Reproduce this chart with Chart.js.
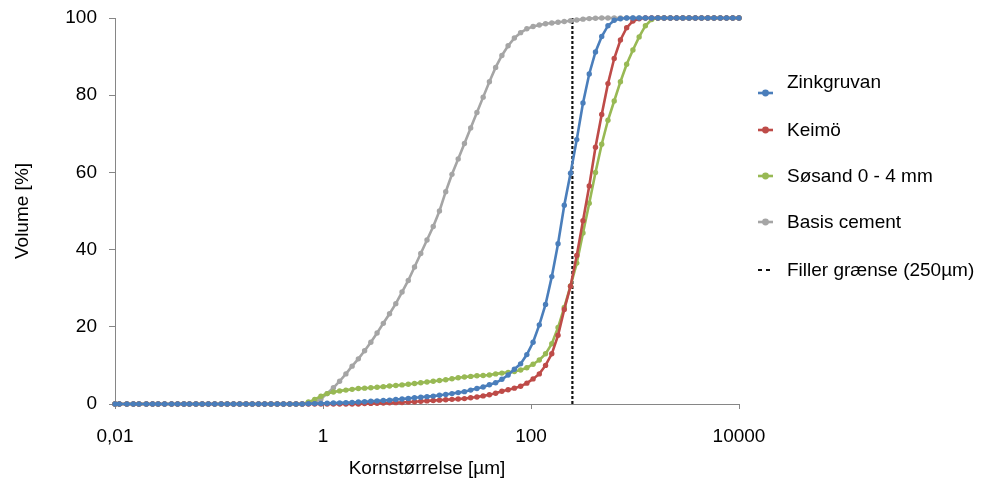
<!DOCTYPE html>
<html><head><meta charset="utf-8">
<script src="https://cdn.jsdelivr.net/npm/chart.js@4/dist/chart.umd.min.js"></script>
<style>
html,body{margin:0;padding:0;background:#fff;}
#wrap{position:relative;width:982px;height:480px;overflow:hidden;}
#c{position:absolute;left:0;top:0;}
.lg{position:absolute;left:756px;height:24px;white-space:nowrap;font:19px "Liberation Sans",Arial,sans-serif;color:#000;}
.lg canvas{position:absolute;left:0;}
.lg span{position:absolute;left:31px;top:0;line-height:24px;}
</style></head><body>
<div id="wrap"><canvas id="c" width="982" height="480"></canvas><div id="legend"></div></div>
<script>
// particle size grid (µm)
const sizes = [
 0.01,0.011,0.013,0.015,0.017,0.02,0.023,0.026,0.03,0.035,
 0.04,0.046,0.052,0.06,0.069,0.079,0.091,0.105,0.12,0.138,
 0.158,0.182,0.209,0.24,0.275,0.316,0.363,0.417,0.479,0.55,
 0.631,0.724,0.832,0.955,1.096,1.259,1.445,1.66,1.905,2.188,
 2.512,2.884,3.311,3.802,4.365,5.012,5.754,6.607,7.586,8.71,
 10,11.48,13.18,15.14,17.38,19.95,22.91,26.3,30.2,34.67,
 39.81,45.71,52.48,60.26,69.18,79.43,91.2,104.7,120.2,138,
 158.5,182,208.9,239.9,275.4,316.2,363.1,416.9,478.6,549.5,
 631,724.4,831.8,955,1096,1259,1445,1660,1905,2188,
 2512,2884,3311,3802,4365,5012,5754,6607,7586,8710,10000
];
const zinkgruvan = [
 0,0,0,0,0,0,0,0,0,0,
 0,0,0,0,0,0,0,0,0,0,
 0,0,0,0,0,0,0,0,0,0,
 0,0.05,0.1,0.15,0.2,0.25,0.3,0.35,0.4,0.5,
 0.6,0.7,0.8,0.9,1.0,1.15,1.3,1.45,1.6,1.75,
 1.9,2.05,2.25,2.45,2.7,2.95,3.2,3.6,4.0,4.4,
 5.0,5.5,6.4,7.5,9.0,10.4,12.8,16.0,20.5,25.8,
 33.0,41.5,51.5,59.8,68.5,78,85.5,91.2,95.2,98.0,
 99.4,99.8,100,100,100,100,100,100,100,100,
 100,100,100,100,100,100,100,100,100,100,100
];
const keimo = [
 0,0,0,0,0,0,0,0,0,0,
 0,0,0,0,0,0,0,0,0,0,
 0,0,0,0,0,0,0,0,0,0,
 0,0,0,0,0,0,0,0,0,0,
 0.1,0.15,0.2,0.25,0.3,0.35,0.4,0.5,0.6,0.7,
 0.8,0.9,1.0,1.1,1.2,1.3,1.4,1.6,1.8,2.1,
 2.4,2.8,3.3,3.7,4.1,4.6,5.4,6.5,7.8,10.0,
 13.0,17.8,24.5,30.5,38.5,47.5,56.5,66.5,75,83,
 89.5,94.3,97.5,99.2,99.8,100,100,100,100,100,
 100,100,100,100,100,100,100,100,100,100,100
];
const sosand = [
 0,0,0,0,0,0,0,0,0,0,
 0,0,0,0,0,0,0,0,0,0,
 0,0,0,0,0,0,0,0,0,0,
 0,0.5,1.2,2.0,2.7,3.1,3.4,3.6,3.8,4.0,
 4.1,4.2,4.35,4.5,4.65,4.8,4.95,5.1,5.3,5.5,
 5.7,5.9,6.1,6.3,6.55,6.8,7.0,7.15,7.3,7.4,
 7.5,7.8,8.0,8.2,8.4,8.8,9.4,10.3,11.4,13.0,
 15.6,19.8,25.0,30.6,36.5,44.3,52.0,60,67.3,73.5,
 78.5,83.5,88,91.7,95.1,98,99.6,100,100,100,
 100,100,100,100,100,100,100,100,100,100,100
];
const basisCement = [
 0,0,0,0,0,0,0,0,0,0,
 0,0,0,0,0,0,0,0,0,0,
 0,0,0,0,0,0,0,0,0,0,
 0,0.1,0.4,1.3,2.7,4.2,5.9,7.8,9.8,11.7,
 13.8,16.0,18.4,20.9,23.4,26.0,29.0,32.0,35.5,39.0,
 42.5,46.0,50.0,55.0,59.5,63.5,67.5,71.5,75.5,79.5,
 83.5,87.2,90.3,92.8,94.8,96.2,97.2,97.8,98.2,98.5,
 98.7,98.9,99.1,99.3,99.5,99.7,99.85,99.95,100,100,
 100,100,100,100,100,100,100,100,100,100,
 100,100,100,100,100,100,100,100,100,100,100
];
const fillerX = [250, 250];
const fillerY = [0, 100];
const xTicks = [0.01, 1, 100, 10000];
const yTicks = [0, 20, 40, 60, 80, 100];
const labels = ['Zinkgruvan', 'Keimö', 'Søsand 0 - 4 mm', 'Basis cement', 'Filler grænse (250µm)'];

const FONT = '"Liberation Sans", Arial, sans-serif';
const AXC = '#868686';
const toPts = (xs, ys) => xs.map((x, i) => ({x: x, y: ys[i]}));

function curve(label, ys, color) {
  return {label, data: toPts(sizes, ys), borderColor: color, backgroundColor: color,
    borderWidth: 2.6, pointRadius: 2.7, pointBorderWidth: 0, pointBackgroundColor: color,
    showLine: true, tension: 0, clip: false};
}
const datasets = [
  curve(labels[0], zinkgruvan, '#4a7ebb'),
  curve(labels[1], keimo, '#be4b48'),
  curve(labels[2], sosand, '#98b954'),
  curve(labels[3], basisCement, '#a5a5a5'),
  {label: labels[4], data: toPts(fillerX, fillerY), borderColor: '#111', backgroundColor: '#111',
   borderWidth: 2.2, borderDash: [3, 2], pointRadius: 0, showLine: true, clip: false}
];

const chart = new Chart(document.getElementById('c'), {
  type: 'scatter',
  data: {datasets},
  options: {
    responsive: false, animation: false, devicePixelRatio: 1,
    layout: {padding: {top: 18, right: 243, left: 0, bottom: 0}},
    plugins: {legend: {display: false}, tooltip: {enabled: false}},
    scales: {
      x: {
        type: 'logarithmic', min: 0.01, max: 10000,
        afterBuildTicks: s => { s.ticks = xTicks.map(v => ({value: v})); },
        afterFit: s => { s.height = 76; s.paddingLeft = 0; s.paddingRight = 0; },
        ticks: {callback: v => String(v).replace('.', ','), color: '#000', font: {size: 19, family: FONT},
                padding: 16, maxRotation: 0, autoSkip: false},
        grid: {drawOnChartArea: false, drawTicks: true, tickLength: 5, color: AXC},
        border: {display: true, color: AXC, width: 1},
        title: {display: true, text: 'Kornstørrelse [µm]', color: '#000', font: {size: 19, family: FONT},
                padding: {top: 0, bottom: 0}}
      },
      y: {
        min: 0, max: 100,
        afterBuildTicks: s => { s.ticks = yTicks.map(v => ({value: v})); },
        afterFit: s => { s.width = 115; s.paddingTop = 0; s.paddingBottom = 0; },
        ticks: {color: '#000', font: {size: 19, family: FONT}, padding: 12},
        grid: {drawOnChartArea: false, drawTicks: true, tickLength: 6, color: AXC},
        border: {display: true, color: AXC, width: 1},
        title: {display: true, text: 'Volume [%]', color: '#000', font: {size: 19, family: FONT},
                padding: {top: 11, bottom: 0}}
      }
    }
  }
});

// legend (HTML, from dataset labels/styles)
const textY = [82, 130, 176, 222, 270];
const markY = [93, 130, 176, 222, 270];
const lg = document.getElementById('legend');
datasets.forEach((ds, i) => {
  const row = document.createElement('div');
  row.className = 'lg';
  row.style.top = (textY[i] - 12) + 'px';
  const cv = document.createElement('canvas');
  cv.width = 20; cv.height = 10;
  cv.style.top = (markY[i] - textY[i] + 12 - 5) + 'px';
  const g = cv.getContext('2d');
  g.strokeStyle = ds.borderColor; g.lineWidth = ds.borderDash ? 2 : 2.6;
  if (ds.borderDash) { g.setLineDash([4, 4]); g.beginPath(); g.moveTo(2, 5); g.lineTo(14, 5); g.stroke(); }
  else { g.beginPath(); g.moveTo(2, 5); g.lineTo(17, 5); g.stroke(); }
  if (ds.pointRadius) { g.fillStyle = ds.borderColor; g.beginPath(); g.arc(9.5, 5, 3.4, 0, Math.PI * 2); g.fill(); }
  const sp = document.createElement('span');
  sp.textContent = ds.label;
  row.appendChild(cv); row.appendChild(sp);
  lg.appendChild(row);
});
</script>
</body></html>
